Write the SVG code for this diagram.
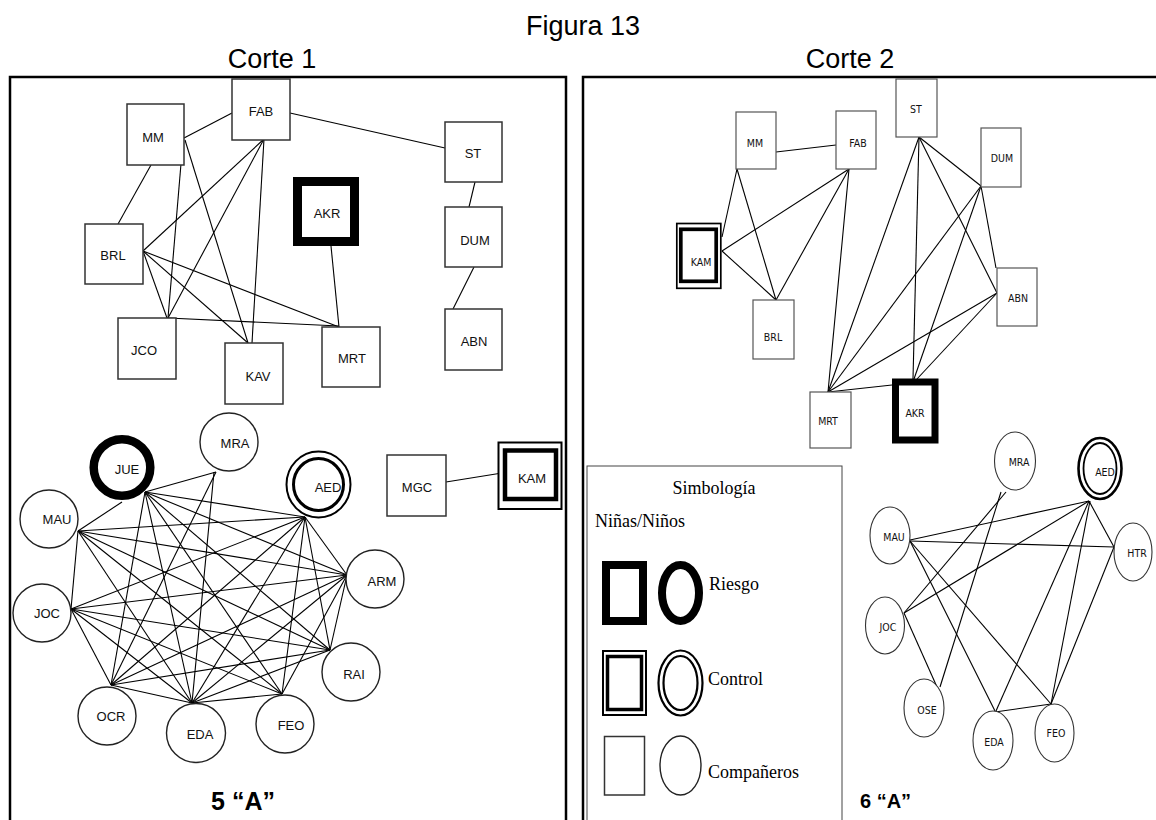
<svg xmlns="http://www.w3.org/2000/svg" width="1156" height="820" viewBox="0 0 1156 820">
<style>
  .title { font-family: "Liberation Sans", Arial, sans-serif; font-size: 27px; text-anchor: middle; fill: #000; }
  .panel { fill: #fff; stroke: #000; stroke-width: 2.5; }
  .box { fill: #fff; stroke: #333; stroke-width: 1.5; }
  .rbox { fill: #fff; stroke: #555; stroke-width: 1.2; }
  .circ { fill: #fff; stroke: #222; stroke-width: 1.4; }
  .rcirc { fill: #fff; stroke: #333; stroke-width: 1.1; }
  .risk { fill: #fff; stroke: #000; }
  .ctl { fill: none; stroke: #000; }
  .lbl { font-family: "Liberation Sans", Arial, sans-serif; font-size: 13px; text-anchor: middle; fill: #111; }
  .rlbl { font-family: "Liberation Sans Narrow", "DejaVu Sans Condensed", "Liberation Sans", sans-serif; font-size: 10.5px; text-anchor: middle; fill: #111; }
  .edge line { stroke: #000; stroke-width: 1.1; }
  .legend { font-family: "Liberation Serif", "Times New Roman", serif; font-size: 18px; fill: #000; }
  .group { font-family: "Liberation Sans", Arial, sans-serif; font-weight: bold; fill: #000; }
</style>

<!-- headings -->
<text class="title" x="583" y="35">Figura 13</text>
<text class="title" x="272" y="68">Corte 1</text>
<text class="title" x="850" y="68">Corte 2</text>

<!-- frames for the two cuts -->
<rect class="panel" x="10" y="77" width="556" height="760"/>
<rect class="panel" x="583" y="77" width="600" height="760"/>

<!-- ===== Corte 1 connectors ===== -->
<g id="edges-corte1" class="edge">
  <line x1="184" y1="138" x2="232" y2="113"/>
  <line x1="151" y1="165" x2="118" y2="224"/>
  <line x1="183" y1="140" x2="168" y2="318"/>
  <line x1="185" y1="140" x2="248" y2="343"/>
  <line x1="264" y1="139" x2="143" y2="251"/>
  <line x1="264" y1="139" x2="168" y2="318"/>
  <line x1="264" y1="139" x2="252" y2="343"/>
  <line x1="290" y1="113" x2="445" y2="148"/>
  <line x1="143" y1="251" x2="167" y2="318"/>
  <line x1="143" y1="251" x2="248" y2="343"/>
  <line x1="143" y1="251" x2="339" y2="327"/>
  <line x1="168" y1="318" x2="339" y2="326"/>
  <line x1="331" y1="246" x2="339" y2="327"/>
  <line x1="475" y1="182" x2="469" y2="207"/>
  <line x1="474" y1="267" x2="453" y2="309"/>
  <line x1="446" y1="482" x2="502" y2="473"/>
  <!-- JUE -->
  <line x1="145" y1="492" x2="216" y2="472"/>
  <line x1="122" y1="502" x2="78" y2="531"/>
  <line x1="145" y1="492" x2="305" y2="517"/>
  <line x1="145" y1="492" x2="347" y2="575"/>
  <line x1="145" y1="492" x2="330" y2="650"/>
  <line x1="145" y1="492" x2="282" y2="694"/>
  <line x1="145" y1="492" x2="192" y2="703"/>
  <line x1="145" y1="492" x2="111" y2="685"/>
  <!-- MRA -->
  <line x1="216" y1="472" x2="111" y2="685"/>
  <line x1="214" y1="472" x2="192" y2="703"/>
  <!-- MAU -->
  <line x1="78" y1="531" x2="71" y2="609"/>
  <line x1="78" y1="531" x2="305" y2="517"/>
  <line x1="78" y1="531" x2="347" y2="575"/>
  <line x1="78" y1="531" x2="330" y2="650"/>
  <line x1="78" y1="531" x2="282" y2="694"/>
  <line x1="78" y1="531" x2="192" y2="703"/>
  <!-- JOC -->
  <line x1="71" y1="609" x2="111" y2="685"/>
  <line x1="71" y1="609" x2="192" y2="703"/>
  <line x1="71" y1="609" x2="282" y2="694"/>
  <line x1="71" y1="609" x2="330" y2="650"/>
  <line x1="71" y1="609" x2="347" y2="575"/>
  <line x1="71" y1="609" x2="305" y2="517"/>
  <!-- OCR -->
  <line x1="111" y1="685" x2="192" y2="703"/>
  <line x1="111" y1="685" x2="330" y2="650"/>
  <line x1="111" y1="685" x2="347" y2="575"/>
  <line x1="111" y1="685" x2="305" y2="517"/>
  <!-- EDA -->
  <line x1="192" y1="703" x2="282" y2="694"/>
  <line x1="192" y1="703" x2="330" y2="650"/>
  <line x1="192" y1="703" x2="347" y2="575"/>
  <line x1="192" y1="703" x2="305" y2="517"/>
  <!-- FEO, RAI, ARM -->
  <line x1="282" y1="694" x2="347" y2="575"/>
  <line x1="282" y1="694" x2="305" y2="517"/>
  <line x1="330" y1="650" x2="347" y2="575"/>
  <line x1="330" y1="650" x2="305" y2="517"/>
  <line x1="347" y1="575" x2="305" y2="517"/>
</g>

<!-- ===== Corte 1 nodes: squares ===== -->
<g id="c1-MM"><rect class="box" x="127" y="104" width="57" height="61"/><text class="lbl" x="153" y="141.5">MM</text></g>
<g id="c1-FAB"><rect class="box" x="232" y="79" width="58" height="61"/><text class="lbl" x="261" y="115.5">FAB</text></g>
<g id="c1-BRL"><rect class="box" x="85" y="224" width="58" height="60"/><text class="lbl" x="113" y="259.5">BRL</text></g>
<g id="c1-JCO"><rect class="box" x="118" y="318" width="58" height="61"/><text class="lbl" x="144" y="354.5">JCO</text></g>
<g id="c1-KAV"><rect class="box" x="225" y="343" width="58" height="61"/><text class="lbl" x="258" y="380.5">KAV</text></g>
<g id="c1-MRT"><rect class="box" x="322" y="327" width="58" height="60"/><text class="lbl" x="352" y="362.5">MRT</text></g>
<g id="c1-ST"><rect class="box" x="445" y="122" width="57" height="60"/><text class="lbl" x="473" y="157.5">ST</text></g>
<g id="c1-DUM"><rect class="box" x="445" y="207" width="57" height="60"/><text class="lbl" x="475" y="244.5">DUM</text></g>
<g id="c1-ABN"><rect class="box" x="445" y="309" width="57" height="61"/><text class="lbl" x="474" y="345.5">ABN</text></g>
<g id="c1-AKR"><rect class="risk" x="297.5" y="181.5" width="57" height="60" stroke-width="9"/><text class="lbl" x="327" y="217.5">AKR</text></g>
<g id="c1-MGC"><rect class="box" x="387" y="455" width="59" height="61"/><text class="lbl" x="417" y="491.5">MGC</text></g>
<g id="c1-KAM">
  <rect class="risk" x="498.5" y="442.5" width="63" height="66.5" stroke-width="2"/>
  <rect class="ctl" x="505" y="450.5" width="51" height="48.5" stroke-width="4.5"/>
  <text class="lbl" x="532" y="482.5">KAM</text>
</g>

<!-- ===== Corte 1 nodes: circles ===== -->
<g id="c1-MRA"><circle class="circ" cx="229" cy="442" r="29"/><text class="lbl" x="235" y="447.5">MRA</text></g>
<g id="c1-JUE"><circle class="risk" cx="122" cy="467.5" r="28.3" stroke-width="8.5"/><text class="lbl" x="127" y="473.5">JUE</text></g>
<g id="c1-AED">
  <ellipse class="risk" cx="318.5" cy="484.5" rx="32" ry="33" stroke-width="2"/>
  <ellipse class="ctl" cx="318.5" cy="484.5" rx="25" ry="26" stroke-width="3"/>
  <text class="lbl" x="328" y="491.5">AED</text>
</g>
<g id="c1-MAU"><circle class="circ" cx="49" cy="519" r="29"/><text class="lbl" x="57" y="523.5">MAU</text></g>
<g id="c1-JOC"><circle class="circ" cx="42" cy="613" r="29"/><text class="lbl" x="47" y="617.5">JOC</text></g>
<g id="c1-ARM"><circle class="circ" cx="375" cy="579" r="29"/><text class="lbl" x="382" y="585.5">ARM</text></g>
<g id="c1-RAI"><circle class="circ" cx="351" cy="672" r="29"/><text class="lbl" x="354" y="678.5">RAI</text></g>
<g id="c1-OCR"><circle class="circ" cx="107" cy="716" r="29"/><text class="lbl" x="111" y="720.5">OCR</text></g>
<g id="c1-EDA"><circle class="circ" cx="196" cy="733" r="29.5"/><text class="lbl" x="200" y="738.5">EDA</text></g>
<g id="c1-FEO"><circle class="circ" cx="285" cy="724" r="29"/><text class="lbl" x="291" y="729.5">FEO</text></g>

<text class="group" x="243" y="810" font-size="25" text-anchor="middle">5 “A”</text>

<!-- ===== Corte 2 connectors ===== -->
<g id="edges-corte2" class="edge">
  <line x1="776" y1="152" x2="836" y2="145"/>
  <line x1="737" y1="169" x2="722" y2="237"/>
  <line x1="737" y1="169" x2="776" y2="300"/>
  <line x1="849" y1="169" x2="722" y2="251"/>
  <line x1="849" y1="169" x2="776" y2="300"/>
  <line x1="849" y1="169" x2="828" y2="392"/>
  <line x1="722" y1="251" x2="776" y2="300"/>
  <line x1="919" y1="137" x2="981" y2="186"/>
  <line x1="919" y1="137" x2="997" y2="293"/>
  <line x1="919" y1="137" x2="913" y2="379"/>
  <line x1="919" y1="137" x2="828" y2="392"/>
  <line x1="981" y1="186" x2="996" y2="268"/>
  <line x1="981" y1="186" x2="828" y2="392"/>
  <line x1="981" y1="186" x2="914" y2="379"/>
  <line x1="997" y1="293" x2="828" y2="392"/>
  <line x1="997" y1="293" x2="917" y2="379"/>
  <line x1="828" y1="392" x2="892" y2="385"/>
  <!-- circles -->
  <line x1="910" y1="540" x2="1089" y2="501"/>
  <line x1="910" y1="541" x2="1114" y2="547"/>
  <line x1="910" y1="541" x2="995" y2="711"/>
  <line x1="910" y1="541" x2="1051" y2="704"/>
  <line x1="1006" y1="492" x2="904" y2="613"/>
  <line x1="1001" y1="492" x2="940" y2="687"/>
  <line x1="904" y1="613" x2="1089" y2="501"/>
  <line x1="904" y1="613" x2="937" y2="687"/>
  <line x1="1089" y1="501" x2="1114" y2="547"/>
  <line x1="1089" y1="501" x2="996" y2="711"/>
  <line x1="1090" y1="501" x2="1051" y2="704"/>
  <line x1="1114" y1="547" x2="1051" y2="704"/>
  <line x1="995" y1="712" x2="1051" y2="704"/>
</g>

<!-- ===== Corte 2 nodes: squares ===== -->
<g id="c2-MM"><rect class="rbox" x="736" y="112" width="40" height="57"/><text class="rlbl" x="755" y="147">MM</text></g>
<g id="c2-FAB"><rect class="rbox" x="836" y="111" width="40" height="58"/><text class="rlbl" x="858" y="147">FAB</text></g>
<g id="c2-ST"><rect class="rbox" x="896" y="79" width="41" height="58"/><text class="rlbl" x="916" y="113">ST</text></g>
<g id="c2-DUM"><rect class="rbox" x="981" y="128" width="40" height="59"/><text class="rlbl" x="1002" y="162">DUM</text></g>
<g id="c2-ABN"><rect class="rbox" x="997" y="268" width="40" height="58"/><text class="rlbl" x="1018" y="302">ABN</text></g>
<g id="c2-BRL"><rect class="rbox" x="753" y="300" width="41" height="59"/><text class="rlbl" x="773" y="341">BRL</text></g>
<g id="c2-MRT"><rect class="rbox" x="810" y="392" width="41" height="56"/><text class="rlbl" x="828" y="425">MRT</text></g>
<g id="c2-KAM">
  <rect class="risk" x="676.8" y="223.5" width="44" height="64.8" stroke-width="1.7"/>
  <rect class="ctl" x="680.8" y="229.3" width="35.4" height="52" stroke-width="3.7"/>
  <text class="rlbl" x="701" y="266">KAM</text>
</g>
<g id="c2-AKR"><rect class="risk" x="895.5" y="382" width="39.5" height="58" stroke-width="7"/><text class="rlbl" x="915" y="417">AKR</text></g>

<!-- ===== Corte 2 nodes: circles ===== -->
<g id="c2-MRA"><ellipse class="rcirc" cx="1015" cy="461" rx="20.5" ry="29"/><text class="rlbl" x="1019" y="466">MRA</text></g>
<g id="c2-AED">
  <ellipse class="risk" cx="1100" cy="468.5" rx="21.5" ry="30.5" stroke-width="2.6"/>
  <ellipse class="ctl" cx="1100" cy="468.5" rx="16.5" ry="25.5" stroke-width="1.8"/>
  <text class="rlbl" x="1105" y="476">AED</text>
</g>
<g id="c2-MAU"><ellipse class="rcirc" cx="890" cy="535.5" rx="20" ry="28.5"/><text class="rlbl" x="894" y="541">MAU</text></g>
<g id="c2-HTR"><ellipse class="rcirc" cx="1133" cy="552" rx="19" ry="29"/><text class="rlbl" x="1137" y="557">HTR</text></g>
<g id="c2-JOC"><ellipse class="rcirc" cx="885" cy="625.5" rx="19.5" ry="28.5"/><text class="rlbl" x="888" y="631">JOC</text></g>
<g id="c2-OSE"><ellipse class="rcirc" cx="924" cy="708" rx="20" ry="29"/><text class="rlbl" x="927" y="714">OSE</text></g>
<g id="c2-EDA"><ellipse class="rcirc" cx="993" cy="740.5" rx="20" ry="29.5"/><text class="rlbl" x="994" y="746">EDA</text></g>
<g id="c2-FEO"><ellipse class="rcirc" cx="1054.5" cy="733" rx="19.5" ry="29"/><text class="rlbl" x="1056" y="737">FEO</text></g>

<text class="group" x="860" y="808" font-size="20">6 “A”</text>

<!-- ===== legend ===== -->
<g id="legend">
  <rect x="587" y="466" width="255" height="380" fill="#fff" stroke="#444" stroke-width="1"/>
  <text class="legend" x="714" y="494" text-anchor="middle">Simbología</text>
  <text class="legend" x="595" y="527">Niñas/Niños</text>
  <rect class="risk" x="606" y="565" width="37" height="56" stroke-width="8"/>
  <ellipse class="risk" cx="680.5" cy="593" rx="18.5" ry="28" stroke-width="8"/>
  <text class="legend" x="709" y="590">Riesgo</text>
  <rect class="risk" x="603" y="651" width="43" height="64" stroke-width="2"/>
  <rect class="ctl" x="607.5" y="656.5" width="34" height="53" stroke-width="3.5"/>
  <ellipse class="risk" cx="680.5" cy="683" rx="22" ry="32.5" stroke-width="2.2"/>
  <ellipse class="ctl" cx="680.5" cy="683" rx="17" ry="27" stroke-width="2.2"/>
  <text class="legend" x="708" y="685">Control</text>
  <rect class="box" x="604.5" y="736.5" width="40" height="58.5" stroke-width="1.5"/>
  <ellipse class="circ" cx="680.5" cy="765.5" rx="20.5" ry="29.5" stroke-width="1.5"/>
  <text class="legend" x="708" y="778">Compañeros</text>
</g>
</svg>
